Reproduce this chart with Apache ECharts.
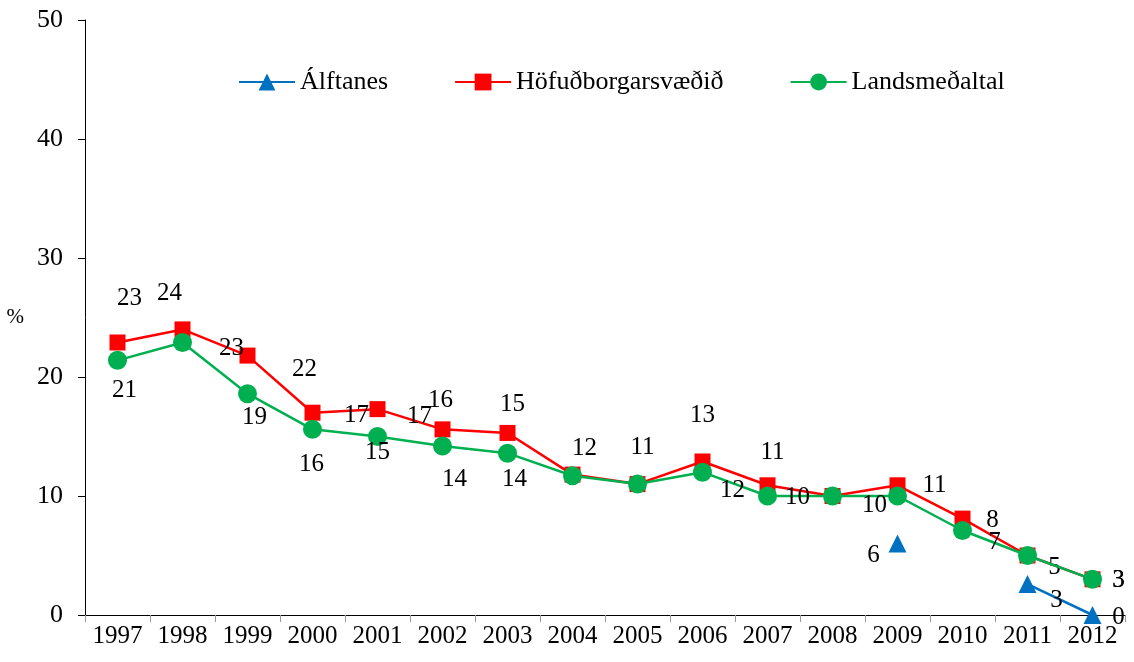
<!DOCTYPE html>
<html>
<head>
<meta charset="utf-8">
<script src="https://cdn.jsdelivr.net/npm/echarts@6/dist/echarts.min.js"></script>
<style>
  html, body { margin: 0; padding: 0; background: #fff; }
  #chart { width: 1134px; height: 662px; }
</style>
</head>
<body>
<div id="chart"></div>
<script>
const years = ['1997', '1998', '1999', '2000', '2001', '2002', '2003', '2004',
  '2005', '2006', '2007', '2008', '2009', '2010', '2011', '2012']

const alftanes = [null, null, null, null, null, null, null, null,
  null, null, null, null, 6.0, null, 2.6, 0]
const hofudborg = [22.9, 24.0, 21.8, 17.0, 17.3, 15.6, 15.3, 11.8,
  11.0, 12.9, 10.9, 10.0, 10.9, 8.1, 5.0, 3.0]
const landsmedaltal = [21.4, 22.9, 18.6, 15.6, 15.0, 14.2, 13.6, 11.7,
  11.0, 12.0, 10.0, 10.0, 10.0, 7.1, 5.0, 3.0]

const yTicks = [0, 10, 20, 30, 40, 50]

// label placement (pixel offsets from the point), null = no label shown
const blueLabelOff = [null, null, null, null, null, null, null, null,
  null, null, null, null, [-24, 12], null, [29, 16], [26, 2]]
const redLabelOff = [[12, -44], [-13, -36], [57, 14], [44, 3], [42, 7], [-2, -29], [5, -28], [12, -26],
  [5, -37], [0, -46], [5, -33], null, [37, 0], [30, 2], [27, 12], [26, 1]]
const greenLabelOff = [[7, 30], [49, 6], [7, 24], [-1, 35], [0, 16], [12, 33], [7, 26], null,
  null, [30, 18], [30, 1], null, [-23, 9], [32, 12], null, [26, 1]]

const FONT = '"Liberation Serif", "Times New Roman", serif'

const withLabels = (values, offsets) => values.map((v, i) => ({
  value: v,
  label: {
    show: v !== null && offsets[i] !== null,
    position: 'inside',
    offset: offsets[i] || [0, 0]
  }
}))

const labelStyle = {
  color: '#000',
  fontFamily: FONT,
  fontSize: 25,
  formatter: (p) => Math.round(p.value)
}

const chart = echarts.init(document.getElementById('chart'))

chart.setOption({
  animation: false,
  textStyle: { fontFamily: FONT },
  legend: {
    top: 64,
    left: 233,
    itemWidth: 56,
    itemHeight: 21,
    itemGap: 66,
    textStyle: { fontFamily: FONT, fontSize: 26, color: '#000' },
    data: ['Álftanes', 'Höfuðborgarsvæðið', 'Landsmeðaltal']
  },
  grid: {
    left: 85,
    right: 9,
    top: 20,
    bottom: 47,
    containLabel: false
  },
  xAxis: {
    type: 'category',
    data: years,
    boundaryGap: true,
    axisLine: { lineStyle: { color: '#000', width: 1 } },
    axisTick: { show: true, interval: 0, length: 7, lineStyle: { color: '#999' } },
    axisLabel: {
      color: '#000', fontFamily: FONT, fontSize: 25, margin: 9,
      interval: 0, hideOverlap: false
    }
  },
  yAxis: {
    type: 'value',
    min: yTicks[0],
    max: yTicks[yTicks.length - 1],
    interval: 10,
    name: '%',
    nameLocation: 'middle',
    nameRotate: 0,
    nameGap: 61,
    nameTextStyle: { color: '#000', fontFamily: FONT, fontSize: 21 },
    splitLine: { show: false },
    axisLine: { show: true, lineStyle: { color: '#000', width: 1 } },
    axisTick: { show: true, length: 7, lineStyle: { color: '#000' } },
    axisLabel: { color: '#000', fontFamily: FONT, fontSize: 26, margin: 22 }
  },
  series: [
    {
      name: 'Höfuðborgarsvæðið',
      type: 'line',
      z: 2,
      data: withLabels(hofudborg, redLabelOff),
      symbol: 'rect',
      symbolSize: 16,
      itemStyle: { color: '#FF0000' },
      lineStyle: { color: '#FF0000', width: 2.5 },
      label: labelStyle
    },
    {
      name: 'Landsmeðaltal',
      type: 'line',
      z: 3,
      data: withLabels(landsmedaltal, greenLabelOff),
      symbol: 'circle',
      symbolSize: 19,
      itemStyle: { color: '#00B050' },
      lineStyle: { color: '#00B050', width: 2.5 },
      label: labelStyle
    },
    {
      name: 'Álftanes',
      type: 'line',
      z: 4,
      data: withLabels(alftanes, blueLabelOff),
      connectNulls: false,
      symbol: 'triangle',
      symbolSize: 18,
      itemStyle: { color: '#0070C0' },
      lineStyle: { color: '#0070C0', width: 2.5 },
      label: labelStyle
    }
  ]
})
</script>
</body>
</html>
